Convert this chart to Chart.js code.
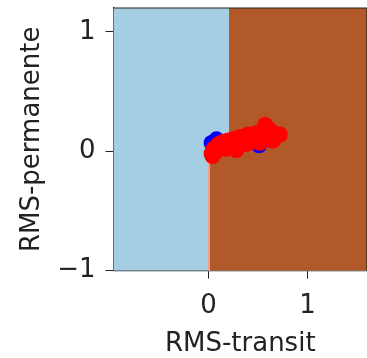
<!DOCTYPE html>
<html>
<head>
<meta charset="utf-8">
<script src="https://cdn.jsdelivr.net/npm/chart.js@4"></script>
<style>
  html, body { margin: 0; padding: 0; background: #fff; }
  #wrap { width: 367px; height: 358px; }
</style>
</head>
<body>
<div id="wrap"><canvas id="c" width="367" height="358"></canvas></div>
<script>
// class 1 (red) points
const redX = [0.03, 0.05, 0.08, 0.12, 0.15, 0.18, 0.22, 0.25, 0.30, 0.32, 0.38, 0.40, 0.45, 0.48, 0.52, 0.55, 0.57, 0.60, 0.62, 0.65, 0.68, 0.72, 0.10, 0.20, 0.04, 0.28];
const redY = [-0.02, 0.02, 0.00, 0.03, 0.08, 0.02, 0.05, 0.10, 0.04, 0.12, 0.06, 0.14, 0.08, 0.15, 0.07, 0.14, 0.22, 0.10, 0.18, 0.09, 0.14, 0.14, 0.06, 0.09, -0.04, 0.01];
// class 0 (blue) points
const blueX = [0.03, 0.08, 0.51];
const blueY = [0.07, 0.10, 0.05];

// decision regions: boundary x above / below the split
const splitY = -0.04;
const boundUpperX = 0.21;
const boundLowerX = 0.0;

const xTicks = [0, 1];
const yTicks = [-1, 0, 1];

const colBlue = '#a6cee3';
const colBrown = '#b15928';

const toPts = (xs, ys) => xs.map((x, i) => ({ x: x, y: ys[i] }));

const regions = {
  id: 'regions',
  beforeDatasetsDraw(chart) {
    const { ctx, chartArea: a, scales: { x, y } } = chart;
    const ySplit = Math.round(y.getPixelForValue(splitY));
    const xu = Math.round(x.getPixelForValue(boundUpperX));
    const xl = Math.round(x.getPixelForValue(boundLowerX));
    ctx.save();
    ctx.fillStyle = colBlue;
    ctx.fillRect(a.left, a.top, a.right - a.left, a.bottom - a.top);
    ctx.fillStyle = colBrown;
    ctx.fillRect(xu, a.top, a.right - xu, ySplit - a.top + 1);
    ctx.fillRect(xl, ySplit, a.right - xl, a.bottom - ySplit);
    // thin pink edge along lower boundary
    ctx.fillStyle = '#f0a090';
    ctx.fillRect(xl - 1, ySplit, 2, a.bottom - ySplit);
    ctx.restore();
  },
  afterDatasetsDraw(chart) {
    const { ctx, chartArea: a } = chart;
    ctx.save();
    ctx.strokeStyle = '#222';
    ctx.lineWidth = 1.2;
    ctx.beginPath();
    ctx.moveTo(a.left, a.top);
    ctx.lineTo(a.right, a.top);
    ctx.lineTo(a.right, a.bottom);
    ctx.stroke();
    ctx.restore();
  }
};

const tickFont = { family: 'DejaVu Sans', size: 26 };

new Chart(document.getElementById('c'), {
  type: 'scatter',
  data: {
    datasets: [
      { data: toPts(redX, redY), backgroundColor: '#ff0000', pointRadius: 8, pointBorderWidth: 0 },
      { data: toPts(blueX, blueY), backgroundColor: '#0000ff', pointRadius: 8, pointBorderWidth: 0 }
    ]
  },
  options: {
    responsive: false,
    animation: false,
    layout: { autoPadding: false, padding: { top: 8, right: 0, left: 13, bottom: 0 } },
    plugins: { legend: { display: false }, tooltip: { enabled: false } },
    scales: {
      x: {
        type: 'linear', min: -0.96, max: 1.6,
        afterBuildTicks: s => { s.ticks = xTicks.map(v => ({ value: v })); },
        afterFit: s => { s.paddingLeft = 0; s.paddingRight = 0; },
        ticks: { color: '#222', font: tickFont, padding: 12, callback: v => String(v).replace('-', '\u2212') },
        grid: { drawOnChartArea: false, tickLength: 8, color: '#222', tickWidth: 1 },
        border: { color: '#222', width: 1.2 },
        title: { display: true, text: 'RMS-transit', color: '#222', font: tickFont, padding: { top: -5, bottom: -2 } }
      },
      y: {
        type: 'linear', min: -1, max: 1.2,
        afterBuildTicks: s => { s.ticks = yTicks.map(v => ({ value: v })); },
        afterFit: s => { s.paddingTop = 0; s.paddingBottom = 0; },
        ticks: { color: '#222', font: tickFont, padding: 10, callback: v => String(v).replace('-', '\u2212') },
        grid: { drawOnChartArea: false, tickLength: 8, color: '#222', tickWidth: 1 },
        border: { color: '#222', width: 1.2 },
        title: { display: true, text: 'RMS-permanente', color: '#222', font: tickFont, padding: { top: 4, bottom: -1 } }
      }
    }
  },
  plugins: [regions]
});
</script>
</body>
</html>
